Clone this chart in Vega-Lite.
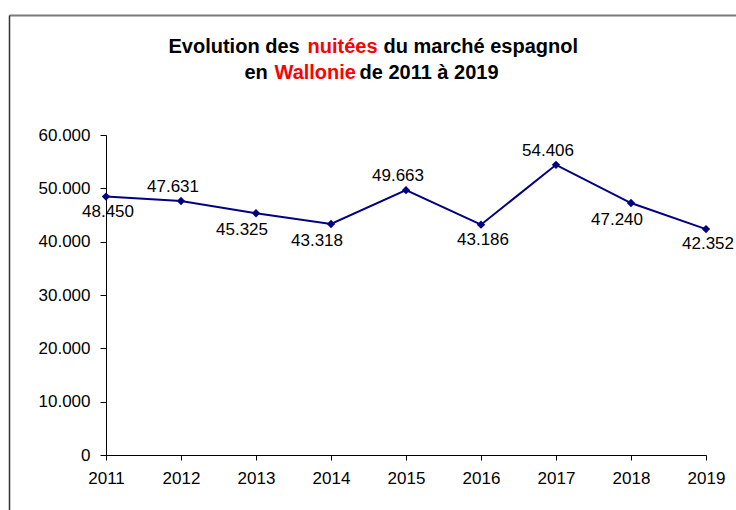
{
  "$schema": "https://vega.github.io/schema/vega-lite/v6.json",
  "width": 600,
  "height": 320,
  "autosize": {"type": "none"},
  "padding": {"left": 106, "top": 135, "right": 30, "bottom": 55},
  "background": "white",
  "config": {
    "locale": {"number": {"decimal": ",", "thousands": ".", "grouping": [3], "currency": ["", " €"]}},
    "view": {"stroke": null},
    "font": "Liberation Sans",
    "axis": {
      "titleFont": "Liberation Sans",
      "titleFontSize": 20,
      "titleFontWeight": "bold",
      "titleColor": "#000000",
      "titleAngle": 0,
      "titleAlign": "left",
      "titleBaseline": "middle"
    }
  },
  "data": {
    "values": [
      {"year": 2011, "value": 48450},
      {"year": 2012, "value": 47631},
      {"year": 2013, "value": 45325},
      {"year": 2014, "value": 43318},
      {"year": 2015, "value": 49663},
      {"year": 2016, "value": 43186},
      {"year": 2017, "value": 54406},
      {"year": 2018, "value": 47240},
      {"year": 2019, "value": 42352}
    ]
  },
  "layer": [
    {
      "encoding": {
        "x": {
          "field": "year",
          "type": "ordinal",
          "scale": {"type": "point", "padding": 0},
          "axis": {
            "labelAngle": 0,
            "domainColor": "#000000",
            "tickColor": "#000000",
            "tickSize": 5,
            "labelFont": "Liberation Sans",
            "labelFontSize": 17,
            "labelColor": "#000000",
            "labelPadding": 10,
            "grid": false,
            "title": "Evolution des",
            "titleX": 62,
            "titleY": -409
          }
        },
        "y": {
          "field": "value",
          "type": "quantitative",
          "scale": {"domain": [0, 60000], "nice": false, "zero": true},
          "axis": {
            "values": [0, 10000, 20000, 30000, 40000, 50000, 60000],
            "format": ",d",
            "domainColor": "#000000",
            "tickColor": "#000000",
            "tickSize": 6,
            "labelFont": "Liberation Sans",
            "labelFontSize": 17,
            "labelColor": "#000000",
            "labelPadding": 10,
            "grid": false,
            "title": "nuitées",
            "titleColor": "#ff0000",
            "titleX": 201,
            "titleY": -89
          }
        }
      },
      "layer": [
        {"mark": {"type": "line", "color": "#000080", "strokeWidth": 2}},
        {"mark": {"type": "point", "shape": "diamond", "filled": true, "color": "#000080", "size": 70, "opacity": 1}},
        {
          "transform": [{"filter": {"field": "year", "oneOf": [2011, 2016, 2019]}}],
          "mark": {"type": "text", "font": "Liberation Sans", "fontSize": 17, "color": "#000000", "dx": 2, "dy": 15},
          "encoding": {"text": {"field": "value", "type": "quantitative", "format": ",d"}}
        },
        {
          "transform": [{"filter": {"field": "year", "oneOf": [2013, 2014, 2018]}}],
          "mark": {"type": "text", "font": "Liberation Sans", "fontSize": 17, "color": "#000000", "dx": -14, "dy": 17},
          "encoding": {"text": {"field": "value", "type": "quantitative", "format": ",d"}}
        },
        {
          "transform": [{"filter": {"field": "year", "oneOf": [2012, 2015, 2017]}}],
          "mark": {"type": "text", "font": "Liberation Sans", "fontSize": 17, "color": "#000000", "dx": -8, "dy": -14},
          "encoding": {"text": {"field": "value", "type": "quantitative", "format": ",d"}}
        }
      ]
    },
    {
      "mark": {"type": "point", "opacity": 0},
      "encoding": {
        "x": {
          "datum": 0,
          "type": "quantitative",
          "scale": {"domain": [0, 1], "range": [-97, 630]},
          "axis": {"orient": "top", "offset": 120, "labels": false, "ticks": false, "grid": false, "domainColor": "#7a7a7a", "domainWidth": 2, "title": "du marché espagnol", "titleX": 277, "titleY": 31}
        },
        "y": {
          "datum": 0,
          "type": "quantitative",
          "scale": {"domain": [0, 1], "range": [375, -120]},
          "axis": {"orient": "left", "offset": 97, "labels": false, "ticks": false, "grid": false, "domainColor": "#333333", "domainWidth": 1.5, "title": "en", "titleX": 235, "titleY": -63}
        }
      }
    },
    {
      "mark": {"type": "point", "opacity": 0},
      "encoding": {
        "x": {
          "datum": 0,
          "type": "quantitative",
          "axis": {"orient": "top", "labels": false, "ticks": false, "grid": false, "domain": false, "title": "Wallonie", "titleColor": "#ff0000", "titleX": 168, "titleY": -63}
        },
        "y": {
          "datum": 0,
          "type": "quantitative",
          "axis": {"orient": "right", "labels": false, "ticks": false, "grid": false, "domain": false, "title": "de 2011 à 2019", "titleX": -347, "titleY": -63}
        }
      }
    }
  ],
  "resolve": {
    "scale": {"x": "independent", "y": "independent"},
    "axis": {"x": "independent", "y": "independent"}
  }
}
